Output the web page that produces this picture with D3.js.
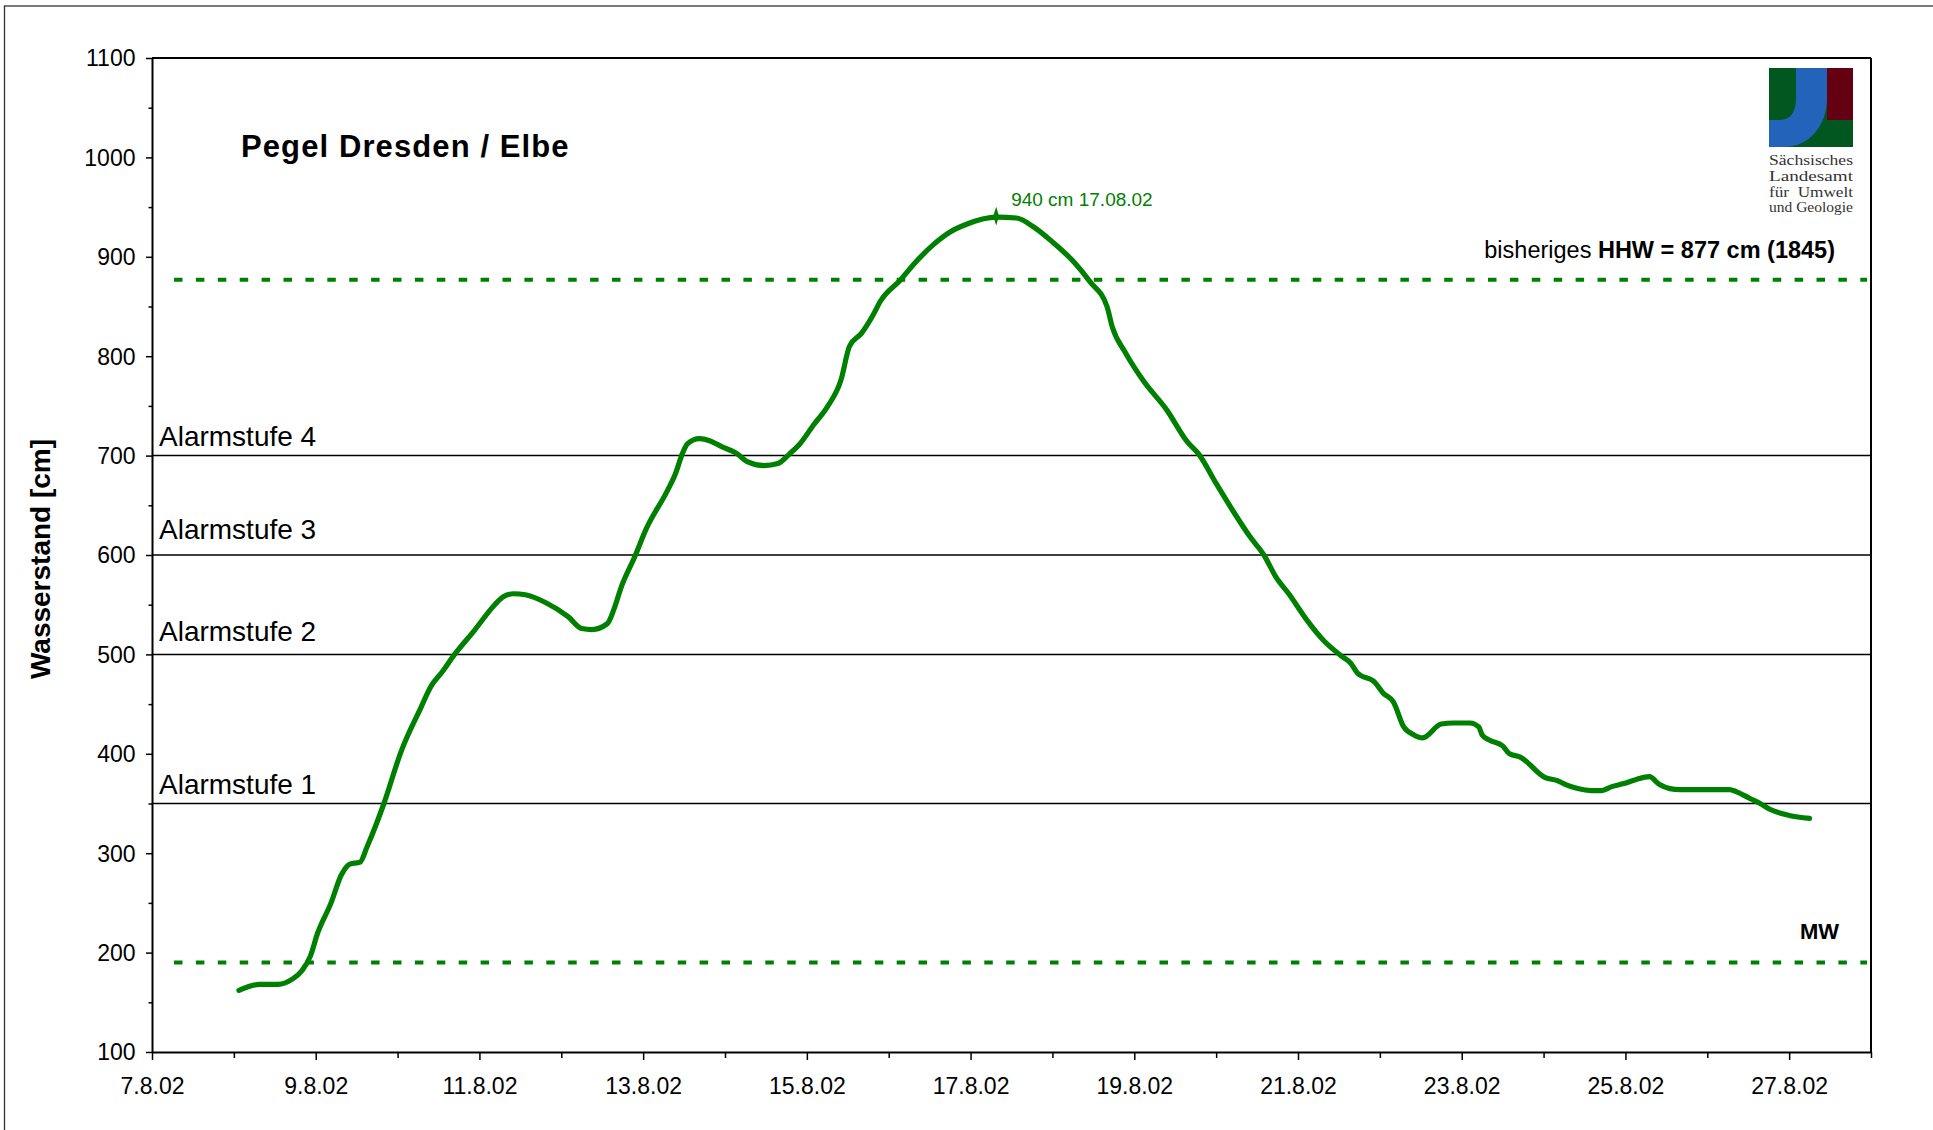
<!DOCTYPE html>
<html>
<head>
<meta charset="utf-8">
<script src="https://cdn.jsdelivr.net/npm/d3@7"></script>
<style>
  html, body { margin: 0; padding: 0; background: #fff; }
  svg { display: block; font-family: "Liberation Sans", Arial, sans-serif; }
</style>
</head>
<body>
<svg id="chart" width="1933" height="1130"></svg>
<script>
// ---------------- data ----------------
const times = [
  "2002-08-08 01:30","2002-08-08 07:30","2002-08-08 13:00","2002-08-08 17:00","2002-08-08 20:00","2002-08-08 22:30",
  "2002-08-09 00:30","2002-08-09 04:30","2002-08-09 07:30","2002-08-09 10:00","2002-08-09 13:00","2002-08-09 15:00","2002-08-09 20:00",
  "2002-08-10 01:00","2002-08-10 06:30","2002-08-10 10:00","2002-08-10 13:00","2002-08-10 16:30","2002-08-10 22:30",
  "2002-08-11 04:30","2002-08-11 07:00","2002-08-11 10:00","2002-08-11 13:30","2002-08-11 19:30",
  "2002-08-12 02:00","2002-08-12 06:00","2002-08-12 09:00","2002-08-12 13:30","2002-08-12 15:30","2002-08-12 17:30","2002-08-12 21:30",
  "2002-08-13 01:00","2002-08-13 07:00","2002-08-13 09:30","2002-08-13 11:30","2002-08-13 13:00","2002-08-13 16:30","2002-08-13 19:30","2002-08-13 23:00",
  "2002-08-14 03:30","2002-08-14 06:30","2002-08-14 11:30","2002-08-14 15:30","2002-08-14 19:00","2002-08-14 22:00",
  "2002-08-15 02:00","2002-08-15 06:00","2002-08-15 10:00","2002-08-15 12:30","2002-08-15 16:00","2002-08-15 19:30","2002-08-15 21:30",
  "2002-08-16 03:30","2002-08-16 08:00","2002-08-16 13:00","2002-08-16 18:00","2002-08-16 23:00",
  "2002-08-17 03:30","2002-08-17 07:30","2002-08-17 13:30","2002-08-17 18:30",
  "2002-08-18 00:00","2002-08-18 06:30","2002-08-18 11:00","2002-08-18 16:00","2002-08-18 17:30","2002-08-18 21:30",
  "2002-08-19 02:30","2002-08-19 09:30","2002-08-19 15:30","2002-08-19 19:00",
  "2002-08-20 00:00","2002-08-20 05:00","2002-08-20 10:00","2002-08-20 14:00","2002-08-20 17:30","2002-08-20 21:30",
  "2002-08-21 02:30","2002-08-21 07:30","2002-08-21 12:30","2002-08-21 15:30","2002-08-21 17:30","2002-08-21 22:30",
  "2002-08-22 01:00","2002-08-22 04:00","2002-08-22 07:00","2002-08-22 10:00","2002-08-22 12:30","2002-08-22 18:00","2002-08-22 21:30",
  "2002-08-23 02:30","2002-08-23 05:00","2002-08-23 06:00","2002-08-23 08:00","2002-08-23 12:00","2002-08-23 14:00","2002-08-23 17:00",
  "2002-08-24 00:30","2002-08-24 04:00","2002-08-24 06:30","2002-08-24 10:00","2002-08-24 14:00","2002-08-24 17:00","2002-08-24 20:00","2002-08-24 23:30",
  "2002-08-25 03:00","2002-08-25 07:00","2002-08-25 10:00","2002-08-25 13:00","2002-08-25 16:00",
  "2002-08-26 06:30","2002-08-26 08:30","2002-08-26 12:30","2002-08-26 15:30","2002-08-26 18:30",
  "2002-08-27 00:00","2002-08-27 06:00"
];
const levels = [
  162,168,168,173,182,197,
  219,250,278,289,291,306,350,
  402,444,469,482,499,524,
  550,558,561,560,552,
  538,526,525,531,546,567,598,
  627,664,682,702,712,717,715,709,
  702,694,690,692,702,712,
  731,749,776,810,823,842,855,
  877,895,912,925,933,
  938,940,939,930,
  915,894,875,850,830,803,
  776,746,714,701,
  672,644,618,600,578,560,
  535,514,499,491,481,472,
  461,452,427,419,416,430,431,
  431,427,419,414,408,400,397,
  376,373,369,365,363,363,367,370,
  374,377,369,365,364,
  364,362,355,350,344,
  338,335
];
const alarmLevels = [350, 500, 600, 700];
const alarmLabels = ["Alarmstufe 1", "Alarmstufe 2", "Alarmstufe 3", "Alarmstufe 4"];
const hhwLevel = 877;
const mwLevel = 190;
const yTickValues = [100,150,200,250,300,350,400,450,500,550,600,650,700,750,800,850,900,950,1000,1050,1100];
const yTickLabels = ["100","","200","","300","","400","","500","","600","","700","","800","","900","","1000","","1100"];
const xTickDates = ["2002-08-07","2002-08-08","2002-08-09","2002-08-10","2002-08-11","2002-08-12","2002-08-13","2002-08-14",
  "2002-08-15","2002-08-16","2002-08-17","2002-08-18","2002-08-19","2002-08-20","2002-08-21","2002-08-22","2002-08-23",
  "2002-08-24","2002-08-25","2002-08-26","2002-08-27","2002-08-28"];
const xTickLabels = ["7.8.02","","9.8.02","","11.8.02","","13.8.02","","15.8.02","","17.8.02","","19.8.02","","21.8.02","",
  "23.8.02","","25.8.02","","27.8.02",""];
const peakLabel = "940 cm 17.08.02";
const logoLines = ["Sächsisches", "Landesamt", "für  Umwelt", "und Geologie"];

// ---------------- layout ----------------
const parseT = d3.timeParse("%Y-%m-%d %H:%M");
const parseD = d3.timeParse("%Y-%m-%d");
const data = times.map((t, i) => ({ t: parseT(t), v: levels[i] }));
const GREEN = "#008000";

const svg = d3.select("#chart");
const X0 = 152, X1 = 1871, Y0 = 58, Y1 = 1052;

const x = d3.scaleTime().domain([parseD("2002-08-07"), parseD("2002-08-28")]).range([X0, X1]);
const y = d3.scaleLinear().domain([100, 1100]).range([Y1, Y0]);

// outer frame
svg.append("rect").attr("x", 4.5).attr("y", 6).attr("width", 1940).attr("height", 1140)
  .attr("fill", "none").attr("stroke", "#333").attr("stroke-width", 1.3);

// plot frame top + right
svg.append("line").attr("x1", X0).attr("x2", X1).attr("y1", Y0).attr("y2", Y0).attr("stroke", "#000").attr("stroke-width", 2);
svg.append("line").attr("x1", X1).attr("x2", X1).attr("y1", Y0).attr("y2", Y1).attr("stroke", "#000").attr("stroke-width", 2);

// alarm lines
const alarmOffsets = [10, 13, 16, 10];
alarmLevels.forEach((lv, i) => {
  svg.append("line").attr("x1", X0).attr("x2", X1).attr("y1", y(lv)).attr("y2", y(lv))
    .attr("stroke", "#000").attr("stroke-width", 1.5);
  svg.append("text").attr("x", 159).attr("y", y(lv) - alarmOffsets[i])
    .attr("font-size", 28).attr("fill", "#000").text(alarmLabels[i]);
});

// dashed reference lines
[hhwLevel, mwLevel].forEach(lv => {
  svg.append("line").attr("x1", X0 + 22).attr("x2", X1 - 4).attr("y1", y(lv)).attr("y2", y(lv))
    .attr("stroke", GREEN).attr("stroke-width", 4).attr("stroke-dasharray", "8.5,13.4");
});

// HHW label
const hhw = svg.append("text").attr("x", 1835).attr("y", 258).attr("text-anchor", "end")
  .attr("font-size", 23.5).attr("fill", "#000");
hhw.append("tspan").text("bisheriges ");
hhw.append("tspan").attr("font-weight", "bold").text("HHW = " + hhwLevel + " cm (1845)");

// MW label
svg.append("text").attr("x", 1800).attr("y", 939).attr("font-size", 22).attr("font-weight", "bold")
  .attr("fill", "#000").text("MW");

// title
svg.append("text").attr("x", 241).attr("y", 157).attr("font-size", 31).attr("font-weight", "bold")
  .attr("letter-spacing", 1.1).attr("fill", "#000").text("Pegel Dresden / Elbe");

// y-axis title
svg.append("text").attr("transform", "translate(50,559) rotate(-90)").attr("text-anchor", "middle")
  .attr("font-size", 28).attr("font-weight", "bold").attr("fill", "#000").text("Wasserstand [cm]");

// axes
const xAxis = d3.axisBottom(x)
  .tickValues(xTickDates.map(parseD))
  .tickFormat((d, i) => xTickLabels[i])
  .tickSize(8).tickSizeOuter(0);
const gx = svg.append("g").attr("transform", `translate(0,${Y1})`).call(xAxis);
gx.select(".domain").attr("stroke", "#000").attr("stroke-width", 2);
gx.selectAll(".tick line").attr("stroke", "#000").attr("stroke-width", 1.5)
  .attr("y2", (d, i) => xTickLabels[i] ? 8 : 6);
gx.selectAll(".tick text").attr("font-size", 23).attr("fill", "#000")
  .attr("font-family", "'Liberation Sans', Arial, sans-serif").attr("y", 42).attr("dy", 0);

const yAxis = d3.axisLeft(y)
  .tickValues(yTickValues)
  .tickFormat((d, i) => yTickLabels[i])
  .tickSize(6).tickSizeOuter(0);
const gy = svg.append("g").attr("transform", `translate(${X0},0)`).call(yAxis);
gy.select(".domain").attr("stroke", "#000").attr("stroke-width", 2);
gy.selectAll(".tick line").attr("stroke", "#000").attr("stroke-width", 1.5)
  .attr("x2", (d, i) => yTickLabels[i] ? -6 : -3.5);
gy.selectAll(".tick text").attr("font-size", 23).attr("fill", "#000")
  .attr("font-family", "'Liberation Sans', Arial, sans-serif").attr("x", -16.5).attr("dy", "0.34em");

// series line
const line = d3.line().x(d => x(d.t)).y(d => y(d.v)).curve(d3.curveMonotoneX);
svg.append("path").datum(data).attr("d", line).attr("fill", "none").attr("stroke", GREEN)
  .attr("stroke-width", 5.2).attr("stroke-linejoin", "round").attr("stroke-linecap", "round");

// peak marker + label
const pi = d3.maxIndex(data, d => d.v);
const pk = data[pi];
svg.append("path").attr("d", d3.symbol().type(d3.symbolDiamond).size(45))
  .attr("transform", `translate(${x(pk.t)},${y(pk.v) - 1}) scale(0.8,1.5)`).attr("fill", GREEN);
svg.append("text").attr("x", x(pk.t) + 15).attr("y", y(pk.v) - 11).attr("font-size", 19)
  .attr("fill", GREEN).text(peakLabel);

// logo
const LX = 1769, LY = 68, LW = 84, LH = 79;
const logo = svg.append("g").attr("transform", `translate(${LX},${LY})`);
logo.append("rect").attr("width", LW).attr("height", LH).attr("fill", "#02561f");
logo.append("rect").attr("x", 58).attr("width", LW - 58).attr("height", 52).attr("fill", "#650012");
logo.append("path").attr("d", "M27,0 L58,0 L58,30 C58,58 40,79 15,79 L0,79 L0,52 L10,52 C22,52 27,44 27,30 Z")
  .attr("fill", "#2363b9");
const logoBase = [165, 181, 197, 212];
logoLines.forEach((s, i) => {
  svg.append("text").attr("x", LX).attr("y", logoBase[i]).attr("font-family", "'Liberation Serif', 'Times New Roman', serif")
    .attr("font-size", 14.5).attr("fill", "#333").attr("textLength", LW).attr("lengthAdjust", "spacingAndGlyphs")
    .attr("xml:space", "preserve").text(s);
});
</script>
</body>
</html>
